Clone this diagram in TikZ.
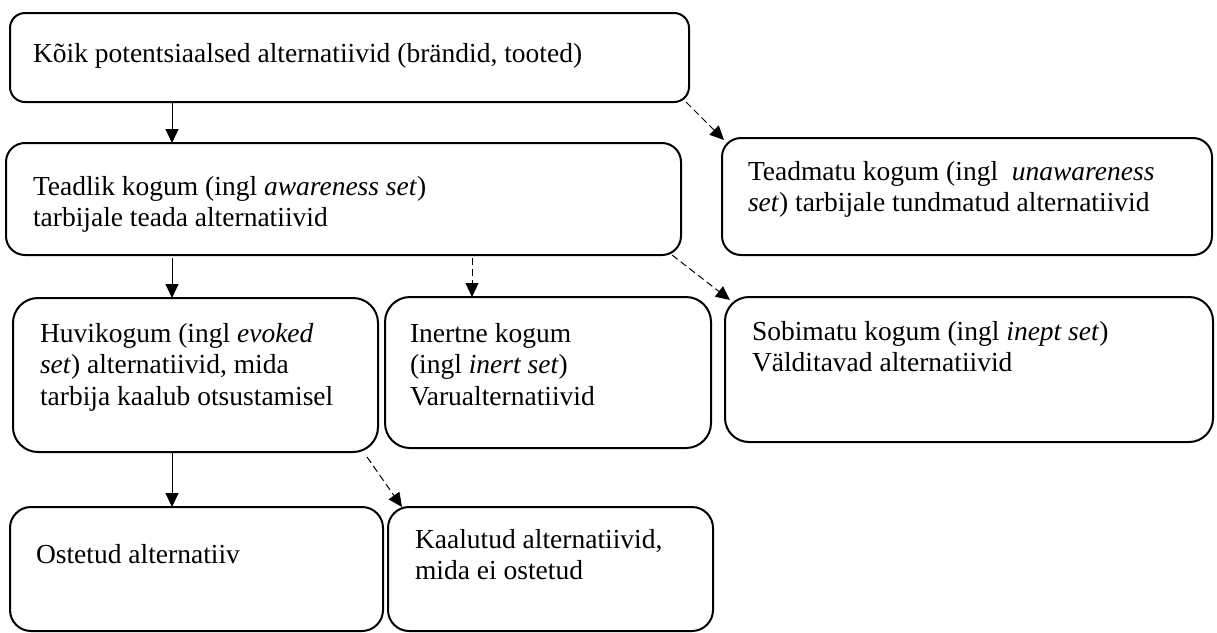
\documentclass[tikz,border=0pt]{standalone}
\usepackage{fontspec}
\setmainfont{Liberation Serif}
\usetikzlibrary{arrows.meta,calc}
\tikzset{
  box/.style={draw=black, line width=2pt, inner sep=0pt, outer sep=0pt, anchor=north west},
  txt/.style={anchor=base west, inner sep=0pt, outer sep=0pt, font=\fontsize{27.5}{31.6}\selectfont},
  arr/.style={line width=1pt, -{Triangle[length=14pt,width=13pt]}},
  darr/.style={arr, dash pattern=on 7pt off 4pt},
}
\newcommand{\lines}[1]{\begin{tabular}[t]{@{}l@{}}#1\end{tabular}}
\begin{document}
\begin{tikzpicture}[x=1pt,y=-1pt]
\useasboundingbox (0,0) rectangle (1217,632);
% boxes
\node[box, rounded corners=15pt, minimum width=679pt, minimum height=89pt] (A) at (10,13) {};
\node[box, rounded corners=19pt, minimum width=675pt, minimum height=112pt] (B) at (6,143) {};
\node[box, rounded corners=19pt, minimum width=490pt, minimum height=117pt] (C) at (722,138) {};
\node[box, rounded corners=25pt, minimum width=365pt, minimum height=154pt] (D) at (13,298) {};
\node[box, rounded corners=25pt, minimum width=326pt, minimum height=151pt] (E) at (385,297) {};
\node[box, rounded corners=24pt, minimum width=488pt, minimum height=145pt] (F) at (725,297) {};
\node[box, rounded corners=21pt, minimum width=373pt, minimum height=124pt] (G) at (10,507) {};
\node[box, rounded corners=21pt, minimum width=325pt, minimum height=124pt] (H) at (388,507) {};
% texts
\node[txt] (tA) at (33,62) {Kõik potentsiaalsed alternatiivid (brändid, tooted)};
\node[txt] (tB) at (33,195) {\lines{Teadlik kogum (ingl \textit{awareness set})\\tarbijale teada alternatiivid}};
\node[txt] (tC) at (748,180) {\lines{Teadmatu kogum (ingl\ \ \textit{unawareness}\\\textit{set}) tarbijale tundmatud alternatiivid}};
\node[txt] (tD) at (40,342) {\lines{Huvikogum (ingl \textit{evoked}\\\textit{set}) alternatiivid, mida\\tarbija kaalub otsustamisel}};
\node[txt] (tE) at (410,342) {\lines{Inertne kogum\\(ingl \textit{inert set})\\Varualternatiivid}};
\node[txt] (tF) at (752,340) {\lines{Sobimatu kogum (ingl \textit{inept set})\\Välditavad alternatiivid}};
\node[txt] (tG) at (36,563) {Ostetud alternatiiv};
\node[txt] (tH) at (415,548) {\lines{Kaalutud alternatiivid,\\mida ei ostetud}};
% connectors
\draw[arr] ($(A.south west)+(162,0)$) -- ($(B.north west)+(166,0)$);
\draw[darr] ($(A.south east)+(-3,0)$) -- ($(C.north west)+(2,2)$);
\draw[arr] ($(B.south west)+(166,3)$) -- ($(D.north west)+(159,0)$);
\draw[darr] ($(B.south west)+(466,3)$) -- ($(E.north west)+(87,0)$);
\draw[darr] ($(B.south east)+(-9,0)$) -- ($(F.north west)+(5,3)$);
\draw[arr] ($(D.south west)+(159,0)$) -- ($(G.north west)+(162,0)$);
\draw[darr] ($(D.south east)+(-11,5)$) -- ($(H.north west)+(14,0)$);
\end{tikzpicture}
\end{document}
